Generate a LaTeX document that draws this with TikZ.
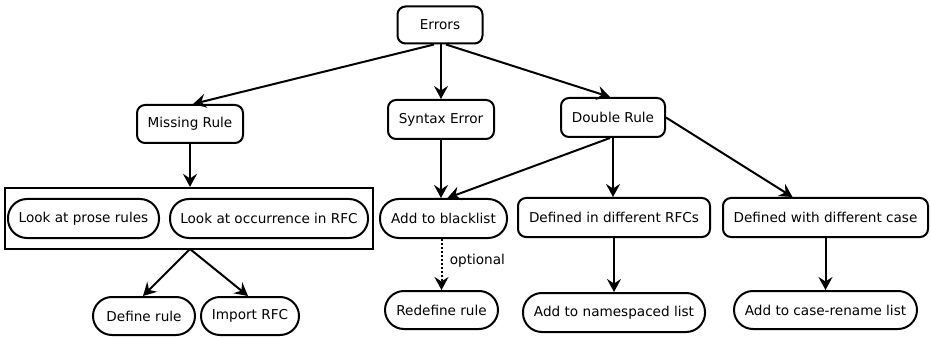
\documentclass[tikz,border=0pt]{standalone}
\usepackage{fontspec}
\setmainfont{DejaVu Sans}
\usetikzlibrary{arrows.meta}
\begin{document}
\begin{tikzpicture}[x=1pt,y=-1pt,
  font=\fontsize{13.6}{15}\selectfont,
  base/.style={draw, line width=2pt, inner sep=0pt, align=center},
  rbox/.style={base, rounded corners=8pt},
  pill/.style={base, rounded corners=19pt},
  conn/.style={line width=2pt, -{Stealth[length=13pt,width=14pt,inset=4.5pt]}},
  dconn/.style={conn, dotted},
  frame/.style={draw, line width=2.2pt, inner sep=0pt}
]
\useasboundingbox (0,0) rectangle (931,339);
% top level
\node[rbox, minimum width=85pt, minimum height=37pt] (err) at (440,25) {Errors};
\node[rbox, minimum width=106pt, minimum height=38pt] (mr) at (190,124) {Missing Rule};
\node[rbox, minimum width=106pt, minimum height=39pt] (se) at (441,119.5) {Syntax Error};
\node[rbox, minimum width=104pt, minimum height=39pt] (dr) at (613,117.5) {Double Rule};
% frame group
\node[frame, minimum width=368pt, minimum height=61pt] (grp) at (189,218.5) {};
\node[pill, minimum width=151pt, minimum height=39pt] (prose) at (83.5,218.5) {Look at prose rules};
\node[pill, minimum width=198pt, minimum height=39pt] (occ) at (269,218.5) {Look at occurrence in RFC};
% middle row
\node[pill, minimum width=127pt, minimum height=39pt] (bl) at (443.5,218.5) {Add to blacklist};
\node[rbox, minimum width=192pt, minimum height=39pt] (drfc) at (614,217.5) {Defined in different RFCs};
\node[rbox, minimum width=205pt, minimum height=39pt] (dcase) at (825.5,217.5) {Defined with different case};
% bottom row
\node[pill, minimum width=102pt, minimum height=38pt] (def) at (144,316) {Define rule};
\node[pill, minimum width=98pt, minimum height=38pt] (imp) at (250,316) {Import RFC};
\node[pill, minimum width=113pt, minimum height=38pt] (redef) at (441.5,310) {Redefine rule};
\node[pill, minimum width=182pt, minimum height=39pt] (ns) at (614,312.5) {Add to namespaced list};
\node[pill, minimum width=183pt, minimum height=38pt] (cr) at (825.5,310) {Add to case-rename list};
% connectors
\draw[conn] ([xshift=-6pt]err.south) -- ([xshift=3pt]mr.north);
\draw[conn] (se.north |- err.south) -- (se.north);
\draw[conn] ([xshift=6pt]err.south) -- ([xshift=-3pt]dr.north);
\draw[conn] (mr.south) -- (grp.north -| mr.south);
\draw[conn] (se.south) -- (se.south |- bl.north);
\draw[conn] ([xshift=-3pt]dr.south) -- ([xshift=4pt]bl.north);
\draw[conn] (dr.south) -- (dr.south |- drfc.north);
\draw[conn] (dr.east) -- ([xshift=-33pt]dcase.north);
\coordinate (gb) at (190,249);
\draw[conn] (gb) -- ([xshift=-1pt]def.north);
\draw[conn] (gb) -- ([xshift=-2pt]imp.north);
\draw[dconn] (bl.south -| redef.north) -- node[right=4pt, pos=0.42] (opt) {optional} (redef.north);
\draw[conn] (drfc.south) -- (ns.north);
\draw[conn] (dcase.south) -- (cr.north);
\end{tikzpicture}
\end{document}
